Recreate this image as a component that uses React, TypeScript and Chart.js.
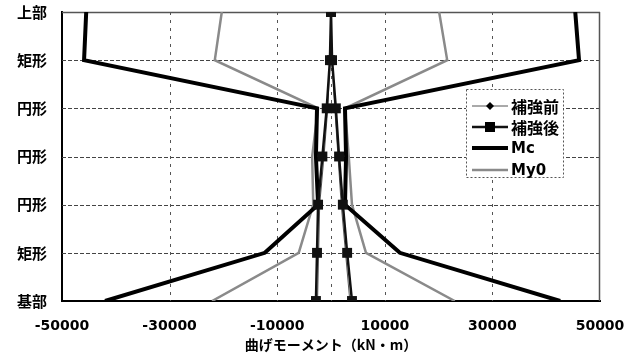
import React, { useEffect, useRef } from 'react';
import { Chart, registerables } from 'chart.js';

Chart.register(...registerables);

// ---- data ----
const rowLabels = ['上部', '矩形', '円形', '円形', '円形', '矩形', '基部'];
const xTickValues = [-50000, -30000, -10000, 0, 10000, 30000, 50000];
const xTitle = '曲げモーメント（kN・m）';

const beforeLeft = [0, -200, -600, -1300, -2100, -2300, -2500];
const beforeRight = [0, 200, 700, 1300, 1900, 2700, 3500];
const afterLeft = [0, -200, -800, -1600, -2400, -2600, -2800];
const afterRight = [0, 200, 900, 1500, 2200, 3000, 3900];
const mcLeft = [-45500, -45900, -2600, -2800, -2400, -12300, -42000];
const mcRight = [45400, 46100, 2600, 2800, 2600, 12800, 42600];
const my0Left = [-20300, -21600, -2400, -3500, -3300, -6000, -22100];
const my0Right = [20100, 21600, 2600, 3300, 3900, 6500, 23000];

const seriesNames = ['補強前', '補強後', 'Mc', 'My0'];

function branch(values: number[]) {
  return values.map((v, i) => ({ x: v, y: i }));
}
function twoBranches(left: number[], right: number[]) {
  return [...branch(left), { x: null as any, y: null as any }, ...branch(right)];
}

const gridPlugin = {
  id: 'dashedGrid',
  beforeDatasetsDraw(chart: any) {
    const ctx = chart.ctx as CanvasRenderingContext2D;
    const { left, right, top, bottom } = chart.chartArea;
    const xs = chart.scales.x;
    const ys = chart.scales.y;
    ctx.save();
    ctx.lineWidth = 1;
    ctx.strokeStyle = '#444';
    ctx.setLineDash([4, 2]);
    for (let i = 1; i < rowLabels.length - 1; i++) {
      const y = Math.round(ys.getPixelForValue(i)) + 0.5;
      ctx.beginPath();
      ctx.moveTo(left, y);
      ctx.lineTo(right, y);
      ctx.stroke();
    }
    ctx.strokeStyle = '#555';
    ctx.setLineDash([3, 5]);
    xTickValues.forEach((v) => {
      if (v === xs.min || v === xs.max) return;
      const x = Math.round(xs.getPixelForValue(v)) + 0.5;
      ctx.beginPath();
      ctx.moveTo(x, top);
      ctx.lineTo(x, bottom);
      ctx.stroke();
    });
    ctx.strokeStyle = '#555';
    ctx.lineWidth = 1.5;
    ctx.setLineDash([]);
    ctx.beginPath();
    ctx.moveTo(left, top + 0.5);
    ctx.lineTo(right, top + 0.5);
    ctx.moveTo(right - 0.5, top);
    ctx.lineTo(right - 0.5, bottom);
    ctx.stroke();
    ctx.restore();
  },
};

const legendPlugin = {
  id: 'boxLegend',
  afterDraw(chart: any) {
    const ctx = chart.ctx as CanvasRenderingContext2D;
    const bx = 466, by = 89, bw = 97, bh = 88;
    ctx.save();
    ctx.fillStyle = '#ffffff';
    ctx.fillRect(bx, by, bw, bh);
    ctx.setLineDash([2, 2]);
    ctx.strokeStyle = '#555';
    ctx.lineWidth = 1;
    ctx.strokeRect(bx + 0.5, by + 0.5, bw, bh);
    ctx.setLineDash([]);
    const rows = [106, 127, 148, 170];
    const x0 = 472, x1 = 508;
    rows.forEach((y, i) => {
      const ds = chart.data.datasets[i];
      ctx.strokeStyle = ds.borderColor;
      ctx.lineWidth = ds.borderWidth;
      ctx.beginPath();
      ctx.moveTo(x0, y);
      ctx.lineTo(x1, y);
      ctx.stroke();
      const cx = (x0 + x1) / 2;
      if (i === 0) {
        ctx.fillStyle = '#000';
        ctx.beginPath();
        ctx.moveTo(cx, y - 4);
        ctx.lineTo(cx + 4, y);
        ctx.lineTo(cx, y + 4);
        ctx.lineTo(cx - 4, y);
        ctx.closePath();
        ctx.fill();
      } else if (i === 1) {
        ctx.fillStyle = '#000';
        ctx.fillRect(cx - 5, y - 5, 10, 10);
      }
      ctx.fillStyle = '#000';
      ctx.textBaseline = 'middle';
      ctx.textAlign = 'left';
      ctx.font = i < 2 ? 'bold 16px "Noto Sans CJK JP"' : 'bold 15px "DejaVu Sans"';
      ctx.fillText(seriesNames[i], 511, y + 1);
    });
    ctx.restore();
  },
};

export default function App() {
  const ref = useRef<HTMLCanvasElement | null>(null);

  useEffect(() => {
    document.body.style.margin = '0';
    const canvas = ref.current;
    if (!canvas) return;
    const chart = new Chart(canvas, {
      type: 'scatter',
      data: {
        datasets: [
          {
            label: seriesNames[0],
            data: twoBranches(beforeLeft, beforeRight),
            showLine: true,
            borderColor: '#555555',
            backgroundColor: '#000000',
            borderWidth: 1,
            pointStyle: 'rectRot',
            pointRadius: 3,
            pointBorderWidth: 0,
            order: 1,
          },
          {
            label: seriesNames[1],
            data: twoBranches(afterLeft, afterRight),
            showLine: true,
            borderColor: '#111111',
            backgroundColor: '#111111',
            borderWidth: 2.5,
            pointStyle: 'rect',
            pointRadius: 7,
            pointBorderWidth: 0,
            order: 0,
          },
          {
            label: seriesNames[2],
            data: twoBranches(mcLeft, mcRight),
            showLine: true,
            borderColor: '#000000',
            backgroundColor: '#000000',
            borderWidth: 4,
            pointRadius: 0,
            order: 2,
          },
          {
            label: seriesNames[3],
            data: twoBranches(my0Left, my0Right),
            showLine: true,
            borderColor: '#8a8a8a',
            backgroundColor: '#8a8a8a',
            borderWidth: 2.5,
            pointRadius: 0,
            order: 3,
          },
        ],
      },
      options: {
        animation: false,
        responsive: true,
        maintainAspectRatio: false,
        layout: { padding: 0 },
        plugins: {
          legend: { display: false },
          tooltip: { enabled: false },
        },
        scales: {
          x: {
            type: 'linear',
            min: -50000,
            max: 50000,
            afterBuildTicks: (scale: any) => {
              scale.ticks = xTickValues.map((v) => ({ value: v }));
            },
            afterFit: (scale: any) => {
              scale.height = 52;
              scale.paddingLeft = 0;
              scale.paddingRight = 34;
              scale.paddingTop = 0;
              scale.paddingBottom = 0;
            },
            ticks: {
              autoSkip: false,
              maxRotation: 0,
              padding: 17,
              color: '#000',
              font: { family: '"DejaVu Sans"', size: 14, weight: 'bold' },
              callback: (v: any) => (v === 0 ? '' : String(v)),
            },
            grid: { drawOnChartArea: false, drawTicks: false },
            border: { display: true, color: '#000', width: 2 },
            title: {
              display: true,
              text: xTitle,
              color: '#000',
              font: { family: '"Noto Sans CJK JP"', size: 14, weight: 'bold' },
              padding: { top: 0, bottom: 0 },
            },
          },
          y: {
            type: 'linear',
            reverse: true,
            min: 0,
            max: 6,
            afterBuildTicks: (scale: any) => {
              scale.ticks = rowLabels.map((_, i) => ({ value: i }));
            },
            afterFit: (scale: any) => {
              scale.width = 62;
              scale.paddingTop = 12;
              scale.paddingBottom = 0;
              scale.paddingLeft = 0;
              scale.paddingRight = 0;
            },
            ticks: {
              autoSkip: false,
              padding: 15,
              color: '#000',
              font: { family: '"Noto Sans CJK JP"', size: 15, weight: 'bold' },
              callback: (v: any) => rowLabels[v] ?? '',
            },
            grid: { drawOnChartArea: false, drawTicks: false },
            border: { display: true, color: '#000', width: 2 },
          },
        },
      },
      plugins: [gridPlugin, legendPlugin],
    });
    return () => chart.destroy();
  }, []);

  return (
    <div style={{ position: 'fixed', left: 0, top: 0, width: 634, height: 353, background: '#fff' }}>
      <canvas ref={ref} />
    </div>
  );
}
